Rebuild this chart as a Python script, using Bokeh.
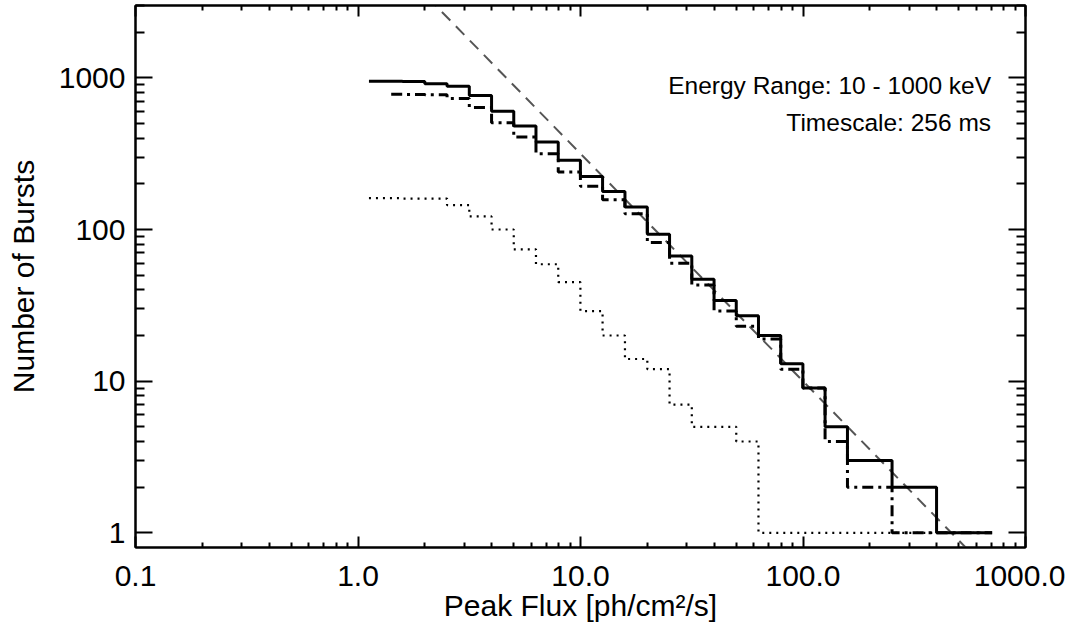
from bokeh.plotting import figure
from bokeh.models import LogAxis, FixedTicker, Label, Range1d
from bokeh.embed import file_html
from bokeh.resources import INLINE

# ---- data ----
flux_centers = [1.12, 1.41, 1.78, 2.24, 2.82, 3.55, 4.47, 5.62, 7.08, 8.91,
                11.2, 14.1, 17.8, 22.4, 28.2, 35.5, 44.7, 56.2, 70.8, 89.1,
                112, 141, 178, 224, 282, 355, 447, 562, 708]
n_all = [950, 948, 945, 913, 880, 765, 603, 481, 377, 286,
         224, 178, 141, 93, 67, 47, 34, 27, 20, 13,
         9, 5, 3, 3, 2, 2, 1, 1, 1]
flux_centers_dd = flux_centers[1:]
n_dashdot = [780, 778, 775, 730, 638, 505, 407, 316, 239,
             193, 157, 127, 82, 60, 43, 29, 23, 19, 12,
             9, 4, 2, 2, 1, 1, 1, 1, 1]
n_dotted = [161, 161, 160, 160, 145, 122, 100, 74, 59, 45,
            29, 20, 14, 12, 7, 5, 5, 4, 1, 1,
            1, 1, 1, 1, 1, 1, 1, 1, 1]
# power law N = norm * S^index
fit_norm = 1.0e4
fit_index = -1.5
fit_flux = [1.0, 1000.0]
fit_counts = [fit_norm * s ** fit_index for s in fit_flux]

x_major = [0.1, 1.0, 10.0, 100.0, 1000.0]
x_labels = ["0.1", "1.0", "10.0", "100.0", "1000.0"]
y_major = [1, 10, 100, 1000]
y_labels = ["1", "10", "100", "1000"]
x_minor = [m * 10.0 ** e for e in range(-1, 3) for m in range(2, 10)]
y_minor = [m * 10.0 ** e for e in range(0, 4) for m in range(2, 10)]

FONT = "Liberation Sans"

p = figure(frame_width=890, frame_height=542,
           x_axis_type="log", y_axis_type="log",
           x_range=Range1d(0.1, 1000), y_range=Range1d(0.8, 3000),
           output_backend="svg", toolbar_location=None,
           min_border_left=135, min_border_right=40,
           min_border_top=5, min_border_bottom=66)
p.grid.visible = False
p.outline_line_color = "black"
p.outline_line_width = 2
p.background_fill_color = "white"
p.border_fill_color = "white"

xt = FixedTicker(ticks=x_major, minor_ticks=x_minor)
yt = FixedTicker(ticks=y_major, minor_ticks=y_minor)

def common(ax, major_len, minor_len):
    ax.axis_line_width = 2
    ax.axis_line_color = "black"
    ax.major_tick_line_width = 2
    ax.minor_tick_line_width = 2
    ax.major_tick_line_color = "black"
    ax.minor_tick_line_color = "black"
    ax.major_tick_in = major_len
    ax.major_tick_out = 0
    ax.minor_tick_in = minor_len
    ax.minor_tick_out = 0

def hide_labels(ax):
    ax.major_label_text_font_size = "1px"
    ax.major_label_text_alpha = 0
    ax.major_label_standoff = 0

xb = p.below[0]
xb.ticker = xt
common(xb, 11, 5)
xb.major_label_overrides = dict(zip(x_major, x_labels))
xb.major_label_text_font = FONT
xb.major_label_text_font_size = "30px"
xb.major_label_text_color = "black"
xb.major_label_standoff = 18

yl = p.left[0]
yl.ticker = yt
common(yl, 17, 9)
yl.major_label_overrides = dict(zip(y_major, y_labels))
yl.major_label_text_font = FONT
yl.major_label_text_font_size = "30px"
yl.major_label_text_color = "black"
yl.major_label_standoff = 10

xb.axis_label = "Peak Flux [ph/cm\u00b2/s]"
yl.axis_label = "Number of Bursts"
for ax in (xb, yl):
    ax.axis_label_text_font = FONT
    ax.axis_label_text_font_size = "30px"
    ax.axis_label_text_font_style = "normal"
    ax.axis_label_text_color = "black"
xb.axis_label_standoff = 0
yl.axis_label_standoff = 16

top = LogAxis(ticker=xt)
common(top, 11, 5)
hide_labels(top)
p.add_layout(top, "above")
right = LogAxis(ticker=yt)
common(right, 17, 9)
hide_labels(right)
p.add_layout(right, "right")

# power-law reference line
p.line(fit_flux, fit_counts, line_color="#555555", line_width=2, line_dash="12 8")

p.step(flux_centers, n_dotted, mode="center", line_color="black",
       line_width=2.2, line_dash="2 5")
p.step(flux_centers_dd, n_dashdot, mode="center", line_color="black",
       line_width=3, line_dash="11 5 3 5")
p.step(flux_centers, n_all, mode="center", line_color="black", line_width=3)

p.add_layout(Label(x=700, y=890, text="Energy Range: 10 - 1000 keV",
                   text_align="right", text_baseline="alphabetic",
                   text_font=FONT, text_font_size="24.5px", text_color="black"))
p.add_layout(Label(x=700, y=510, text="Timescale: 256 ms",
                   text_align="right", text_baseline="alphabetic",
                   text_font=FONT, text_font_size="24.5px", text_color="black"))

open("out.html", "w").write(file_html(p, INLINE))
